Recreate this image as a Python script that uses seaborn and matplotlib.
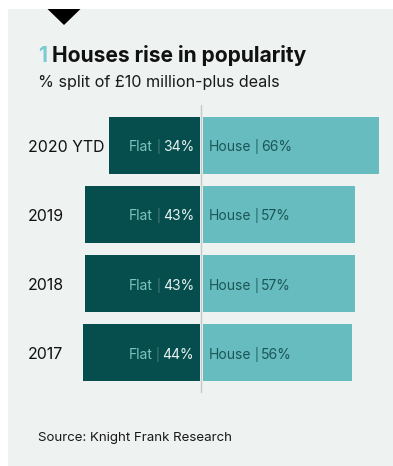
import matplotlib
matplotlib.use("Agg")
import matplotlib.pyplot as plt
import seaborn as sns
import pandas as pd
from matplotlib.patches import Rectangle, Polygon

years = ["2020 YTD", "2019", "2018", "2017"]
flat = [34, 43, 43, 44]
house = [66, 57, 57, 56]

title_num = "1"
title = "Houses rise in popularity"
subtitle = "% split of £10 million-plus deals"
source = "Source: Knight Frank Research"

W, H = 393, 466
DARK = "#064e4d"
LIGHT = "#67bcbf"
BG = "#eef2f0"
FONT = "Inter"

sns.set_theme(style="white")
plt.rcParams["font.family"] = [FONT, "DejaVu Sans"]

fig = plt.figure(figsize=(W / 100, H / 100), dpi=100)
fig.patch.set_facecolor("white")

def fx(px):
    return px / W

def fy(py):
    return 1 - py / H

# panel background
fig.add_artist(Rectangle((fx(8), 0), fx(W) - fx(8), fy(9), transform=fig.transFigure,
                         facecolor=BG, edgecolor="none", zorder=-5))
# black marker triangle
fig.add_artist(Polygon([(fx(47.5), fy(9)), (fx(80.5), fy(9)), (fx(64), fy(25))],
                       closed=True, transform=fig.transFigure, facecolor="black",
                       edgecolor="none", zorder=-4))

ax = fig.add_axes([0, 0, 1, 1])
ax.patch.set_alpha(0)

df = pd.DataFrame({"year": years, "flat": [-v for v in flat], "house": house})
sns.barplot(data=df, x="flat", y="year", orient="h", color=DARK, saturation=1,
            width=0.826, ax=ax)
n_flat = len(ax.patches)
sns.barplot(data=df, x="house", y="year", orient="h", color=LIGHT, saturation=1,
            width=0.826, ax=ax)

scale = 2.665  # px per %
cx = 201.5
gap = 1.5 / scale
for i, p in enumerate(ax.patches):
    p.set_edgecolor("none")
    if i < n_flat:
        p.set_x(p.get_x() - gap)
    else:
        p.set_x(p.get_x() + gap)

ax.set_xlim(-cx / scale, (W - cx) / scale)
step = 69.2
top_center = 145.2
ax.set_ylim(len(years) - 1 + (H - (top_center + step * (len(years) - 1))) / step,
            -top_center / step)
ax.axis("off")

# centre line
ax.plot([0, 0], [-0.58, 3.57], color="#c5c8c6", lw=1.0, zorder=0.5)

# titles
fig.text(fx(38), fy(62), title_num, color="#7ccbd0", fontsize=15.1,
         fontweight="bold", va="baseline")
fig.text(fx(52.5), fy(62), title, color="#111111", fontsize=15.1,
         fontweight="bold", va="baseline")
fig.text(fx(38), fy(87), subtitle, color="#1a1a1a", fontsize=11.65, va="baseline")
fig.text(fx(38), fy(441), source, color="#1a1a1a", fontsize=9.6, va="baseline")

fig.canvas.draw()
r = fig.canvas.get_renderer()

def px_of_data(x, y):
    d = ax.transData.transform((x, y))
    return d[0], H - d[1]

def place_pieces(pieces, x_px, y_px, align):
    # pieces: list of (text, color, size, gap_after)
    texts = []
    for s, c, sz, g in pieces:
        t = fig.text(0, fy(y_px), s, color=c, fontsize=sz, va="baseline")
        texts.append((t, g))
    fig.canvas.draw()
    widths = [t.get_window_extent(r).width for t, _ in texts]
    total = sum(widths) + sum(g for _, g in texts[:-1])
    x = x_px - total if align == "right" else x_px
    for (t, g), w in zip(texts, widths):
        t.set_x(fx(x))
        x += w + g

for i, yr in enumerate(years):
    _, ypx = px_of_data(0, i)
    fig.text(fx(28), fy(ypx + 6.5), yr, color="#111111", fontsize=11.4, va="baseline")
    place_pieces([("Flat", "#7cc3c2", 10, 3), ("|", "#4f8583", 8.5, 3),
                  (f"{flat[i]}%", "#e6f2f0", 10, 0)],
                 194, ypx + 6, "right")
    place_pieces([("House", "#1b5656", 10, 3), ("|", "#1b5656", 8.5, 3),
                  (f"{house[i]}%", "#1b5656", 10, 0)],
                 209, ypx + 6, "left")

fig.savefig("out.png", dpi=100, facecolor=fig.get_facecolor())
